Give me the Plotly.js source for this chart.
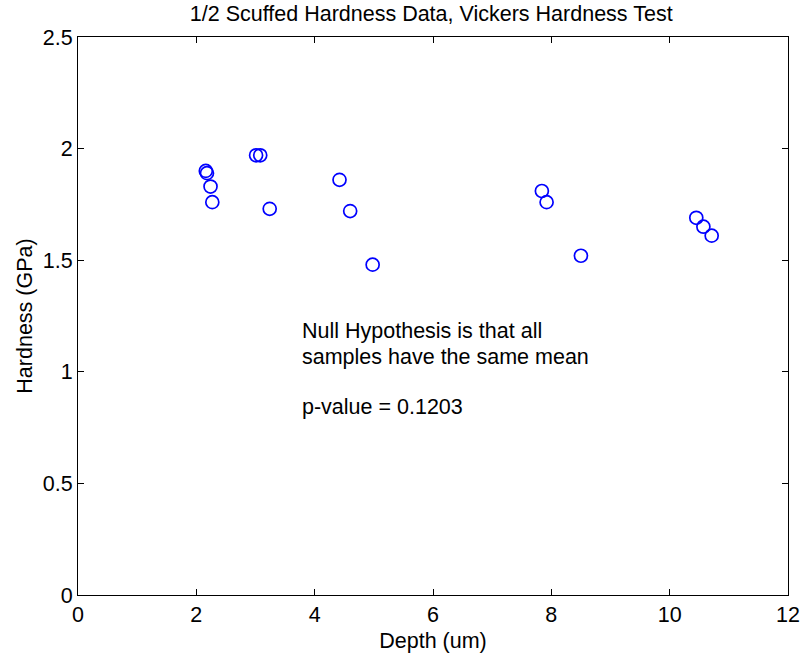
<!DOCTYPE html>
<html><head><meta charset="utf-8">
<script src="https://cdn.plot.ly/plotly-3.0.1.min.js"></script>
<style>body{margin:0;background:#fff}#chart{width:803px;height:664px}</style>
</head><body><div id="chart"></div>
<script>
const depth = [2.16, 2.18, 2.24, 2.27, 3.01, 3.08, 3.24, 4.42, 4.60, 4.98, 7.84, 7.92, 8.50, 10.45, 10.57, 10.71];
const hardness = [1.90, 1.89, 1.83, 1.76, 1.97, 1.97, 1.73, 1.86, 1.72, 1.48, 1.81, 1.76, 1.52, 1.69, 1.65, 1.61];
const xTicks = [0, 2, 4, 6, 8, 10, 12];
const yTicks = [0, 0.5, 1, 1.5, 2, 2.5];
const yTickText = ["0", "0.5", "1", "1.5", "2", "2.5"];
const noteLines = ["Null Hypothesis is that all", "samples have the same mean", "p-value = 0.1203"];
const noteY = [1.183, 1.066, 0.842];

const font = {family: "Liberation Sans, Arial, sans-serif", color: "#000"};
const fs = 21.5;
const trace = {
  x: depth, y: hardness, type: "scatter", mode: "markers",
  marker: {symbol: "circle-open", size: 13, color: "#0000ff", line: {width: 1.7, color: "#0000ff"}},
  hoverinfo: "x+y"
};
const axisCommon = {
  showgrid: false, zeroline: false, showline: true, linecolor: "#000", linewidth: 1,
  mirror: "allticks", ticks: "inside", ticklen: 6, tickcolor: "#000",
  tickfont: Object.assign({size: fs}, font)
};
const layout = {
  width: 803, height: 664,
  margin: {l: 77.5, r: 14.5, t: 37, b: 69},
  paper_bgcolor: "#fff", plot_bgcolor: "#fff",
  showlegend: false,
  font: font,
  title: {text: "1/2 Scuffed Hardness Data, Vickers Hardness Test", font: Object.assign({size: fs}, font),
    x: 0.537, xanchor: "center", yref: "container", y: 0.98, yanchor: "middle"},
  xaxis: Object.assign({}, axisCommon, {range: [0, 12], tickvals: xTicks, ticktext: xTicks.map(String),
    title: {text: "Depth (um)", font: Object.assign({size: fs}, font), standoff: 7}}),
  yaxis: Object.assign({}, axisCommon, {range: [0, 2.5], tickvals: yTicks, ticktext: yTickText,
    title: {text: "Hardness (GPa)", font: Object.assign({size: fs}, font), standoff: 4}}),
  annotations: noteLines.map((t, i) => ({
    x: 3.76, y: noteY[i], xref: "x", yref: "y", text: t, showarrow: false,
    xanchor: "left", yanchor: "middle", font: Object.assign({size: fs}, font)
  }))
};
Plotly.newPlot("chart", [trace], layout, {displayModeBar: false, staticPlot: true});
</script></body></html>
